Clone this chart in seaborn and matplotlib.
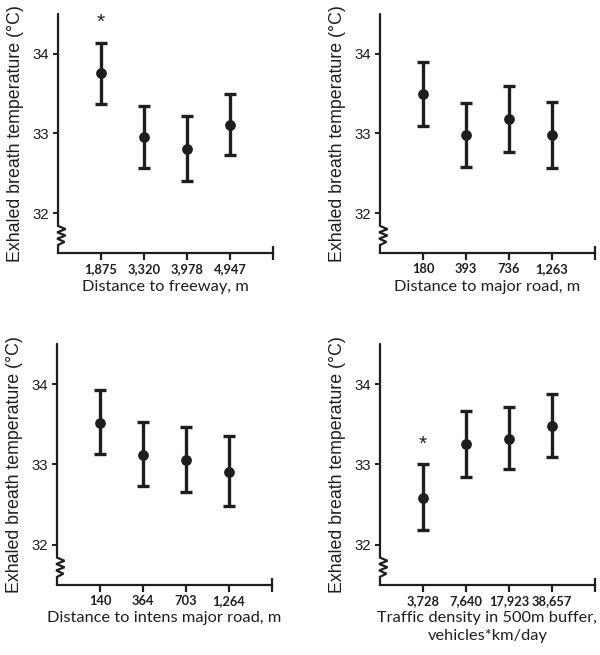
import seaborn as sns
import matplotlib.pyplot as plt
import pandas as pd

# values (mean and 95% interval per group)
freeway_labels = ["1,875", "3,320", "3,978", "4,947"]
freeway_mean = [33.76, 32.95, 32.81, 33.11]
freeway_lo = [33.37, 32.57, 32.41, 32.73]
freeway_hi = [34.14, 33.35, 33.22, 33.50]

major_labels = ["180", "393", "736", "1,263"]
major_mean = [33.50, 32.98, 33.18, 32.98]
major_lo = [33.10, 32.58, 32.77, 32.57]
major_hi = [33.90, 33.38, 33.60, 33.39]

intens_labels = ["140", "364", "703", "1,264"]
intens_mean = [33.52, 33.12, 33.06, 32.91]
intens_lo = [33.13, 32.73, 32.66, 32.48]
intens_hi = [33.93, 33.53, 33.47, 33.35]

traffic_labels = ["3,728", "7,640", "17,923", "38,657"]
traffic_mean = [32.58, 33.25, 33.32, 33.48]
traffic_lo = [32.18, 32.84, 32.94, 33.09]
traffic_hi = [33.00, 33.67, 33.71, 33.87]

panels = [
    ("Distance to freeway, m", freeway_labels, freeway_mean, freeway_lo, freeway_hi, [0]),
    ("Distance to major road, m", major_labels, major_mean, major_lo, major_hi, []),
    ("Distance to intens major road, m", intens_labels, intens_mean, intens_lo, intens_hi, []),
    ("Traffic density in 500m buffer,\nvehicles*km/day", traffic_labels, traffic_mean,
     traffic_lo, traffic_hi, [0]),
]

sns.set_style("ticks")
plt.rcParams["font.family"] = ["Liberation Sans", "DejaVu Sans"]

INK = "#1e1e1e"
fig = plt.figure(figsize=(6, 6.55), dpi=100)
boxes = [
    [0.0967, 0.6137, 0.358, 0.365],
    [0.6333, 0.6137, 0.358, 0.365],
    [0.0950, 0.1070, 0.358, 0.368],
    [0.6333, 0.1070, 0.358, 0.368],
]

for box, (xlabel, labels, mean, lo, hi, stars) in zip(boxes, panels):
    ax = fig.add_axes(box)
    df = pd.DataFrame({"pos": range(1, len(labels) + 1), "mean": mean, "lo": lo, "hi": hi})
    ax.errorbar(df["pos"], df["mean"],
                yerr=[df["mean"] - df["lo"], df["hi"] - df["mean"]],
                fmt="none", ecolor=INK, elinewidth=2.4, capsize=4.5, capthick=2.4, zorder=2)
    sns.scatterplot(data=df, x="pos", y="mean", ax=ax, color=INK, s=60,
                    edgecolor=INK, linewidth=0, zorder=3)
    for i in stars:
        ax.text(df["pos"][i], df["hi"][i] + 0.25, "*", ha="center", va="center",
                fontsize=15, color=INK)

    ax.set_xlim(0, 5)
    ax.set_ylim(31.5, 34.5)
    ax.set_xticks(df["pos"], labels)
    ax.set_xticks([5], minor=True)
    ax.set_yticks([32, 33, 34])

    # left axis line with a break symbol near the bottom
    ax.spines["left"].set_visible(False)
    ax.spines["top"].set_visible(False)
    ax.spines["right"].set_visible(False)
    ax.spines["bottom"].set_linewidth(1.6)
    ax.spines["bottom"].set_color(INK)
    trans = ax.get_yaxis_transform()
    ax.plot([0, 0, 0.035, -0.004, 0.035, -0.004, 0.03, 0, 0],
            [34.5, 31.84, 31.80, 31.76, 31.72, 31.68, 31.64, 31.6, 31.5],
            transform=trans, color=INK, lw=1.6, clip_on=False, solid_joinstyle="miter")

    ax.tick_params(axis="y", length=3.5, width=1.4, color=INK, pad=3,
                   labelsize=10.8, labelcolor=INK)
    ax.tick_params(axis="x", which="major", length=5, width=1.6, color=INK, pad=2.5,
                   labelsize=9.3, labelcolor=INK)
    ax.tick_params(axis="x", which="minor", direction="inout", length=10, width=1.6,
                   color=INK)
    for t in ax.get_xticklabels():
        t.set_family(["Lato", "DejaVu Sans"])
        t.set_fontweight("bold")

    ax.set_xlabel(xlabel, family=["Lato", "DejaVu Sans"], fontsize=11.8, color=INK,
                  labelpad=3, linespacing=1.3)
    ax.set_ylabel("Exhaled breath temperature (°C)", fontsize=12.8, color=INK)
    ax.yaxis.set_label_coords(-0.16, 0.5)

fig.savefig("out.png", dpi=100)
plt.close(fig)
